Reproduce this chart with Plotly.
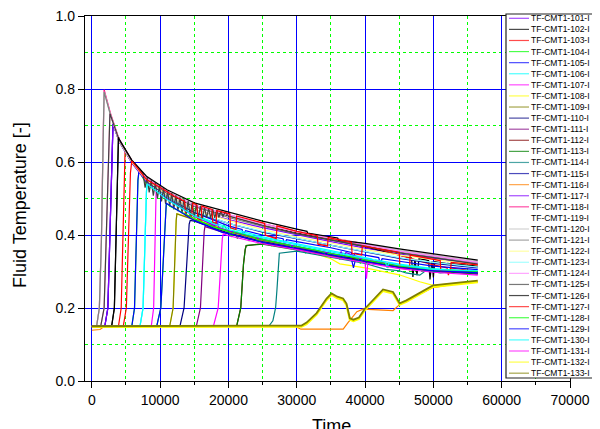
import plotly.graph_objects as go

# ---------------- data ----------------
series_names = [
    "TF-CMT1-101-I", "TF-CMT1-102-I", "TF-CMT1-103-I", "TF-CMT1-104-I", "TF-CMT1-105-I",
    "TF-CMT1-106-I", "TF-CMT1-107-I", "TF-CMT1-108-I", "TF-CMT1-109-I", "TF-CMT1-110-I",
    "TF-CMT1-111-I", "TF-CMT1-112-I", "TF-CMT1-113-I", "TF-CMT1-114-I", "TF-CMT1-115-I",
    "TF-CMT1-116-I", "TF-CMT1-117-I", "TF-CMT1-118-I", "TF-CMT1-119-I", "TF-CMT1-120-I",
    "TF-CMT1-121-I", "TF-CMT1-122-I", "TF-CMT1-123-I", "TF-CMT1-124-I", "TF-CMT1-125-I",
    "TF-CMT1-126-I", "TF-CMT1-127-I", "TF-CMT1-128-I", "TF-CMT1-129-I", "TF-CMT1-130-I",
    "TF-CMT1-131-I", "TF-CMT1-132-I", "TF-CMT1-133-I",
]
series_colors = [
    "#8000FF", "#000000", "#FF0000", "#00FF00", "#0000FF",
    "#00FFFF", "#FF00FF", "#FFFF00", "#808000", "#000080",
    "#800080", "#800000", "#008000", "#008080", "#0000A0",
    "#FF8000", "#8000FF", "#FF0080", "#FFFFFF", "#C0C0C0",
    "#808080", "#FFFF80", "#80FFFF", "#FF80FF", "#404040",
    "#000000", "#FF0000", "#00FF00", "#0000FF", "#00FFFF",
    "#FF00FF", "#FFFF00", "#808000",
]

# rising fronts (time, fluid temperature)
rise_gray_t = [0, 700, 1100, 1400, 1650, 1800]
rise_gray_y = [0.150, 0.150, 0.200, 0.380, 0.650, 0.792]
rise_pink_y = [0.150, 0.150, 0.200, 0.385, 0.660, 0.798]
rise_dgray_t = [0, 1300, 1800, 2150, 2450, 2650]
rise_dgray_y = [0.150, 0.150, 0.200, 0.420, 0.660, 0.733]
rise_violet_t = [0, 1900, 2350, 2700, 2950, 3100]
rise_violet_y = [0.150, 0.150, 0.200, 0.450, 0.660, 0.705]
rise_black_t = [0, 2900, 3300, 3600, 3800, 3900]
rise_black_y = [0.150, 0.150, 0.200, 0.420, 0.620, 0.668]
rise_red1_t = [0, 3900, 4300, 4550, 4750, 4870]
rise_red1_y = [0.150, 0.150, 0.200, 0.420, 0.600, 0.634]
rise_red2_t = [0, 4600, 5050, 5350, 5650, 5850]
rise_red2_y = [0.150, 0.150, 0.200, 0.420, 0.570, 0.603]
rise_blue1_t = [0, 5850, 6250, 6550, 6750, 6900]
rise_blue1_y = [0.150, 0.150, 0.200, 0.420, 0.550, 0.575]
rise_cyan_t = [0, 7050, 7500, 7800, 8000, 8100]
rise_cyan_y = [0.150, 0.150, 0.200, 0.420, 0.520, 0.540]
rise_mag1_t = [0, 8700, 9050, 9250, 9350, 9420]
rise_mag1_y = [0.150, 0.150, 0.200, 0.420, 0.510, 0.530]
rise_blue2_t = [0, 9500, 10100, 10500, 10750, 10900]
rise_blue2_y = [0.150, 0.150, 0.200, 0.360, 0.460, 0.487]
rise_olive_t = [0, 11400, 11900, 12200, 12350, 12450]
rise_olive_y = [0.150, 0.150, 0.200, 0.380, 0.440, 0.458]
rise_navy_t = [0, 12900, 13500, 13950, 14250, 14400]
rise_navy_y = [0.150, 0.150, 0.200, 0.360, 0.430, 0.440]
rise_purple_t = [0, 15300, 15900, 16250, 16450, 16560]
rise_purple_y = [0.150, 0.150, 0.200, 0.360, 0.410, 0.423]
rise_mag2_t = [0, 17800, 18500, 18900, 19100, 19240]
rise_mag2_y = [0.150, 0.150, 0.200, 0.340, 0.390, 0.403]
rise_green_t = [0, 21200, 21800, 22200, 22450, 22600]
rise_green_y = [0.150, 0.150, 0.200, 0.320, 0.360, 0.371]
rise_teal_t = [0, 25900, 26500, 26900, 27100, 27250, 27450]
rise_teal_y = [0.150, 0.150, 0.165, 0.200, 0.250, 0.310, 0.350]

# decay parts
grid_a_t = [2700, 4000, 5850, 8000, 11000, 15000, 20000, 25000, 30000, 35000, 40000, 45000, 50000, 56500]
grid_b_t = [4000, 5850, 8000, 11000, 15000, 20000, 25000, 30000, 35000, 40000, 45000, 50000, 56500]

dec118_y = [0.735, 0.662, 0.604, 0.558, 0.519, 0.481, 0.455, 0.431, 0.410, 0.392, 0.374, 0.358, 0.345, 0.327]
dec119_y = [0.730, 0.658, 0.601, 0.556, 0.517, 0.482, 0.455, 0.430, 0.409, 0.392, 0.374, 0.358, 0.344, 0.327]
dec120_y = [0.730, 0.658, 0.601, 0.556, 0.517, 0.482, 0.455, 0.430, 0.409, 0.392, 0.374, 0.358, 0.344, 0.327]
dec121_y = [0.731, 0.659, 0.602, 0.557, 0.519, 0.479, 0.448, 0.424, 0.403, 0.386, 0.368, 0.353, 0.340, 0.324]

dec124_y = [0.660, 0.603, 0.556, 0.518, 0.481, 0.456, 0.431, 0.409, 0.391, 0.372, 0.356, 0.342, 0.325]
dec122_y = [0.658, 0.600, 0.550, 0.510, 0.470, 0.440, 0.415, 0.395, 0.378, 0.360, 0.345, 0.333, 0.318]
dec101_y = [0.657, 0.600, 0.552, 0.510, 0.470, 0.442, 0.420, 0.400, 0.382, 0.364, 0.348, 0.336, 0.320]
dec115_y = [0.656, 0.598, 0.548, 0.505, 0.462, 0.432, 0.408, 0.390, 0.372, 0.352, 0.336, 0.322, 0.310]

dec117_t = [4000, 5850, 8000, 11000, 15000, 18000, 18300, 18600, 20000, 25000, 30000, 35000, 36200, 36500, 36800, 37200, 40000, 45000, 50000, 56500]
dec117_y = [0.656, 0.598, 0.546, 0.500, 0.452, 0.425, 0.438, 0.420, 0.412, 0.388, 0.368, 0.350, 0.343, 0.355, 0.338, 0.352, 0.332, 0.315, 0.304, 0.296]

dec125_t = [4000, 5850, 7000, 7500, 7800, 8100, 8400, 8700, 9000, 9300, 9600, 9900, 10200, 10500,
            10800, 11100, 11400, 11700, 12000, 12300, 12600, 12900, 13200, 13500, 13800, 14100,
            14400, 14700, 15000, 15300, 15600, 15900, 16200, 16500, 16800, 17100, 17400, 17700,
            18000, 18300, 18600, 18900, 19200, 19500, 20000, 25000, 30000, 35000, 40000, 45000,
            50000, 56500]
dec125_y = [0.660, 0.604, 0.581, 0.568, 0.530, 0.558, 0.517, 0.550, 0.508, 0.543, 0.500, 0.535,
            0.492, 0.528, 0.485, 0.521, 0.478, 0.515, 0.470, 0.509, 0.465, 0.503, 0.460, 0.498,
            0.455, 0.493, 0.452, 0.488, 0.448, 0.484, 0.446, 0.480, 0.445, 0.476, 0.447, 0.473,
            0.446, 0.471, 0.447, 0.468, 0.448, 0.465, 0.450, 0.463, 0.452, 0.426, 0.404, 0.386,
            0.367, 0.351, 0.338, 0.320]

dec126_t = [4000, 5850, 8000, 11000, 15000, 20000, 25000, 30000, 31500, 31600, 35000, 36000, 36100, 40000, 45000, 50000, 56500]
dec126_y = [0.663, 0.605, 0.561, 0.524, 0.488, 0.463, 0.438, 0.416, 0.410, 0.405, 0.395, 0.392, 0.386, 0.377, 0.362, 0.348, 0.331]

dec102_t = [4000, 5850, 8000, 11000, 15000, 20000, 25000, 30000, 35000, 40000, 45000, 46800, 47000, 47300,
            47600, 47900, 49300, 49500, 49800, 50000, 50200, 52000, 56500]
dec102_y = [0.660, 0.602, 0.555, 0.515, 0.478, 0.452, 0.428, 0.406, 0.388, 0.368, 0.345, 0.338, 0.285, 0.333,
            0.290, 0.335, 0.330, 0.278, 0.328, 0.284, 0.327, 0.322, 0.315]

dec103_t = [5850, 8000, 11000, 15000, 20000, 25000, 30000, 35000, 40000, 45000, 50000, 52000, 52200, 52500, 56500]
dec103_y = [0.603, 0.556, 0.518, 0.481, 0.455, 0.430, 0.408, 0.390, 0.372, 0.345, 0.318, 0.310, 0.290, 0.310, 0.300]

dec127_t = [8000, 10000, 11000, 12000, 13600, 13700, 14600, 14800, 15400, 15500, 16000, 16100, 17600, 17700,
            18200, 18300, 20200, 20300, 21100, 21200, 25300, 25400, 27000, 27100, 30000, 33000, 33100,
            34500, 34600, 38000, 38100, 39500, 39600, 45000, 45100, 46500, 46600, 50000, 51000, 51100,
            52500, 52600, 56500]
dec127_y = [0.552, 0.530, 0.518, 0.507, 0.492, 0.455, 0.450, 0.488, 0.482, 0.445, 0.440, 0.479, 0.470, 0.435,
            0.432, 0.467, 0.458, 0.420, 0.415, 0.452, 0.432, 0.400, 0.390, 0.425, 0.410, 0.398, 0.375,
            0.370, 0.393, 0.380, 0.350, 0.345, 0.370, 0.353, 0.310, 0.305, 0.345, 0.335, 0.330, 0.300,
            0.298, 0.325, 0.318]

dec104_t = [8000, 11000, 15000, 18000, 19000, 19300, 20000, 21000, 21300, 21600, 22500, 23000, 23300,
            25000, 26000, 26300, 26600, 28000, 30000, 31000, 31300, 31600, 33000, 35000, 36000, 36300,
            36600, 40000, 43000, 43300, 43600, 45000, 50000, 56500]
dec104_y = [0.540, 0.500, 0.455, 0.430, 0.415, 0.428, 0.410, 0.405, 0.390, 0.402, 0.398, 0.385, 0.397,
            0.388, 0.383, 0.370, 0.382, 0.375, 0.368, 0.364, 0.350, 0.362, 0.357, 0.350, 0.345, 0.333,
            0.345, 0.333, 0.322, 0.310, 0.320, 0.316, 0.305, 0.300]

dec105_t = [8000, 11000, 15000, 20000, 22000, 22200, 22500, 25000, 28000, 28200, 28500, 30000, 35000,
            38000, 38200, 38500, 40000, 42000, 42200, 42500, 45000, 50000, 56500]
dec105_y = [0.545, 0.505, 0.462, 0.425, 0.415, 0.400, 0.412, 0.400, 0.390, 0.375, 0.387, 0.382, 0.365,
            0.352, 0.335, 0.350, 0.345, 0.338, 0.322, 0.335, 0.328, 0.315, 0.305]

dec106_t = [11000, 15000, 20000, 25000, 30000, 35000, 40000, 41000, 41200, 41500, 45000, 50000, 56500]
dec106_y = [0.500, 0.455, 0.420, 0.395, 0.375, 0.357, 0.338, 0.334, 0.318, 0.332, 0.320, 0.308, 0.300]
dec123_t = [11000, 15000, 20000, 25000, 30000, 35000, 40000, 45000, 50000, 56500]
dec123_y = [0.505, 0.465, 0.432, 0.410, 0.390, 0.372, 0.355, 0.338, 0.325, 0.312]
dec130_t = [11000, 15000, 20000, 25000, 30000, 35000, 40000, 43000, 43200, 43500, 45000, 50000, 56500]
dec130_y = [0.497, 0.452, 0.415, 0.392, 0.372, 0.354, 0.336, 0.326, 0.310, 0.324, 0.318, 0.306, 0.302]

dec107_t = [11000, 15000, 20000, 25000, 30000, 35000, 40000, 45000, 50000, 56500]
dec107_y = [0.500, 0.450, 0.410, 0.388, 0.368, 0.350, 0.332, 0.316, 0.305, 0.298]

dec108_t = [15000, 20000, 25000, 30000, 35000, 36300, 40000, 45000, 48000, 49940, 53000, 56500]
dec108_y = [0.445, 0.410, 0.385, 0.365, 0.335, 0.321, 0.310, 0.291, 0.272, 0.262, 0.267, 0.272]

dec109_t = [15000, 20000, 25000, 30000, 35000, 40000, 45000, 50000, 56500]
dec109_y = [0.442, 0.410, 0.386, 0.366, 0.348, 0.330, 0.314, 0.303, 0.295]
dec110_t = [15000, 20000, 25000, 30000, 35000, 40000, 45000, 50000, 56500]
dec110_y = [0.438, 0.405, 0.382, 0.364, 0.346, 0.328, 0.312, 0.302, 0.294]
dec111_t = [20000, 25000, 30000, 35000, 40000, 45000, 50000, 56500]
dec111_y = [0.403, 0.380, 0.362, 0.344, 0.327, 0.312, 0.301, 0.293]
dec112_t = [25000, 30000, 35000, 40000, 45000, 50000, 56500]
dec112_y = [0.376, 0.362, 0.345, 0.328, 0.313, 0.303, 0.296]
dec113_t = [25000, 30000, 35000, 40000, 45000, 50000, 56500]
dec113_y = [0.375, 0.360, 0.343, 0.326, 0.311, 0.301, 0.294]
dec114_t = [30000, 35000, 40000, 43000, 45000, 46000, 48000, 49000, 51000, 53000, 56500]
dec114_y = [0.356, 0.340, 0.322, 0.306, 0.302, 0.296, 0.290, 0.304, 0.296, 0.300, 0.300]

dec128_t = [11500, 15000, 18000, 20000, 20500, 20800, 23000, 24000, 24300, 24600, 27000, 29000, 29300,
            29600, 33000, 34000, 34300, 34600, 38000, 39000, 39300, 39600, 42000, 45000, 50000, 56500]
dec128_y = [0.478, 0.445, 0.420, 0.410, 0.395, 0.410, 0.398, 0.392, 0.378, 0.390, 0.380, 0.372, 0.360,
            0.370, 0.358, 0.352, 0.340, 0.350, 0.340, 0.335, 0.322, 0.333, 0.325, 0.315, 0.306, 0.300]
dec129_t = [11500, 15000, 19000, 20000, 25000, 30000, 35000, 38000, 38300, 38600, 40000, 45000, 50000, 56500]
dec129_y = [0.480, 0.440, 0.408, 0.404, 0.380, 0.363, 0.345, 0.335, 0.310, 0.333, 0.327, 0.311, 0.302, 0.296]
dec131_t = [20000, 25000, 30000, 35000, 40000, 40200, 40400, 45000, 50000, 56500]
dec131_y = [0.398, 0.376, 0.360, 0.341, 0.324, 0.280, 0.323, 0.308, 0.298, 0.290]

# late, slow-rising sensors
t116 = [0, 1200, 1800, 29900, 30600, 36800, 37500, 38000, 38800, 39700, 44100, 44800, 45070, 46050,
        47020, 49940, 53000, 56500]
y116 = [0.139, 0.141, 0.149, 0.149, 0.142, 0.142, 0.160, 0.172, 0.190, 0.197, 0.193, 0.205, 0.210, 0.219,
        0.228, 0.256, 0.265, 0.271]
bump_t = [0, 29970, 30700, 31430, 32900, 34360, 35090, 35940, 36780, 37280, 37770, 38300, 39100, 39960,
          41170, 42630, 44090, 45070, 46050, 47020, 48500, 49940, 53000, 56500]
y132 = [0.148, 0.148, 0.149, 0.156, 0.182, 0.222, 0.236, 0.227, 0.222, 0.208, 0.168, 0.164, 0.170, 0.194,
        0.218, 0.247, 0.240, 0.209, 0.217, 0.227, 0.243, 0.258, 0.264, 0.271]
y133 = [0.150, 0.150, 0.152, 0.160, 0.186, 0.226, 0.240, 0.231, 0.226, 0.212, 0.172, 0.168, 0.174, 0.198,
        0.222, 0.251, 0.244, 0.213, 0.221, 0.231, 0.247, 0.262, 0.268, 0.275]

x_ticks = [0, 10000, 20000, 30000, 40000, 50000, 60000, 70000]
x_minor = [5000, 15000, 25000, 35000, 45000, 55000, 65000]
y_ticks = [0.0, 0.2, 0.4, 0.6, 0.8, 1.0]
y_minor = [0.1, 0.3, 0.5, 0.7, 0.9]

# assemble each sensor's full curve from its pieces (order = drawing order)
curves = [
    (rise_violet_t + grid_b_t, rise_violet_y + dec101_y),   # 101
    (rise_black_t + dec102_t, rise_black_y + dec102_y),     # 102
    (rise_red1_t + dec103_t, rise_red1_y + dec103_y),       # 103
    (rise_blue1_t + dec104_t, rise_blue1_y + dec104_y),     # 104
    (rise_blue1_t + dec105_t, rise_blue1_y + dec105_y),     # 105
    (rise_cyan_t + dec106_t, rise_cyan_y + dec106_y),       # 106
    (rise_mag1_t + dec107_t, rise_mag1_y + dec107_y),       # 107
    (rise_olive_t + dec108_t, rise_olive_y + dec108_y),     # 108
    (rise_olive_t + dec109_t, rise_olive_y + dec109_y),     # 109
    (rise_navy_t + dec110_t, rise_navy_y + dec110_y),       # 110
    (rise_purple_t + dec111_t, rise_purple_y + dec111_y),   # 111
    (rise_green_t + dec112_t, rise_green_y + dec112_y),     # 112
    (rise_green_t + dec113_t, rise_green_y + dec113_y),     # 113
    (rise_teal_t + dec114_t, rise_teal_y + dec114_y),       # 114
    (rise_violet_t + grid_b_t, rise_violet_y + dec115_y),   # 115
    (t116, y116),                                           # 116
    (rise_violet_t + dec117_t, rise_violet_y + dec117_y),   # 117
    (rise_gray_t + grid_a_t, rise_pink_y + dec118_y),       # 118
    (rise_gray_t + grid_a_t, rise_gray_y + dec119_y),       # 119
    (rise_gray_t + grid_a_t, rise_gray_y + dec120_y),       # 120
    (rise_gray_t + grid_a_t, rise_gray_y + dec121_y),       # 121
    (rise_dgray_t + grid_b_t, rise_dgray_y + dec122_y),     # 122
    (rise_cyan_t + dec123_t, rise_cyan_y + dec123_y),       # 123
    (rise_dgray_t + grid_b_t, rise_dgray_y + dec124_y),     # 124
    (rise_dgray_t + dec125_t, rise_dgray_y + dec125_y),     # 125
    (rise_black_t + dec126_t, rise_black_y + dec126_y),     # 126
    (rise_red2_t + dec127_t, rise_red2_y + dec127_y),       # 127
    (rise_blue2_t + dec128_t, rise_blue2_y + dec128_y),     # 128
    (rise_blue2_t + dec129_t, rise_blue2_y + dec129_y),     # 129
    (rise_cyan_t + dec130_t, rise_cyan_y + dec130_y),       # 130
    (rise_mag2_t + dec131_t, rise_mag2_y + dec131_y),       # 131
    (bump_t, y132),                                         # 132
    (bump_t, y133),                                         # 133
]

# ---------------- figure ----------------
# The page body has an 8 px default margin, so the figure is sized/placed
# to land the plot area at the reference's pixel positions.
BODY = 8
W, H = 600 - BODY, 429 - BODY
PLOT_L, PLOT_R, PLOT_T, PLOT_B = 85, 570, 16, 381   # plot area in window pixels
ML = PLOT_L - BODY
MT = PLOT_T - BODY
MR = W - (PLOT_R - BODY)
MB = H - (PLOT_B - BODY)
PW, PH = PLOT_R - PLOT_L, PLOT_B - PLOT_T
FONT = "Liberation Sans, Arial, sans-serif"


def pxx(px):
    return (px - PLOT_L) / PW


def pxy(py):
    return (PLOT_B - py) / PH


fig = go.Figure()
for i, (t, y) in enumerate(curves):
    width = 1.2
    if series_names[i].endswith("132-I"):
        width = 2.2
    if series_names[i].endswith("133-I"):
        width = 1.8
    fig.add_trace(go.Scatter(
        x=t, y=y, mode="lines", name=series_names[i],
        line=dict(color=series_colors[i], width=width),
        showlegend=False, hoverinfo="skip",
    ))

axis_common = dict(
    showline=True, linecolor="black", linewidth=1.3, mirror=True,
    ticks="outside", ticklen=6, tickwidth=1, tickcolor="black",
    showgrid=True, gridcolor="#0000FF", gridwidth=1,
    zeroline=False, ticklabeloverflow="allow",
    tickfont=dict(family=FONT, size=14, color="black"),
)

fig.update_xaxes(
    range=[-1000, 70000], tickmode="array", tickvals=x_ticks, ticktext=[str(v) for v in x_ticks],
    minor=dict(tickmode="array", tickvals=x_minor, ticks="outside", ticklen=3, tickcolor="black",
               showgrid=True, gridcolor="#00FF00", griddash="dot", gridwidth=1),
    **axis_common,
)
fig.update_yaxes(
    range=[0, 1], tickmode="array", tickvals=y_ticks, ticktext=["%.1f" % v for v in y_ticks],
    minor=dict(tickmode="array", tickvals=y_minor, ticks="", showgrid=True, gridcolor="#00FF00",
               griddash="dot", gridwidth=1),
    **axis_common,
)

shapes = []
annotations = []

# axis titles
annotations.append(dict(xref="paper", yref="paper", x=pxx(20), y=pxy(205), text="Fluid Temperature [-]",
                        textangle=-90, showarrow=False, xanchor="center", yanchor="middle",
                        font=dict(family=FONT, size=18, color="black")))
annotations.append(dict(xref="paper", yref="paper", x=pxx(331), y=pxy(414), text="Time",
                        showarrow=False, xanchor="center", yanchor="top",
                        font=dict(family=FONT, size=18, color="black")))

# legend box (drawn by hand so the 33 entries fit like the reference)
shapes.append(dict(type="rect", xref="paper", yref="paper", x0=pxx(506), x1=pxx(597), y0=pxy(378), y1=pxy(14),
                   line=dict(color="#222222", width=1.2), fillcolor="white", layer="above"))
for i, nm in enumerate(series_names):
    yc = 18.3 + 11.09 * i
    shapes.append(dict(type="line", xref="paper", yref="paper", x0=pxx(509), x1=pxx(529), y0=pxy(yc), y1=pxy(yc),
                       line=dict(color=series_colors[i], width=1.2), opacity=0.7, layer="above"))
    annotations.append(dict(xref="paper", yref="paper", x=pxx(530), y=pxy(yc), text=nm, showarrow=False,
                            xanchor="left", yanchor="middle", borderpad=0,
                            font=dict(family=FONT, size=8.5, color="black")))

fig.update_layout(
    width=W, height=H,
    margin=dict(l=ML, r=MR, t=MT, b=MB, pad=0, autoexpand=False),
    paper_bgcolor="white", plot_bgcolor="white",
    showlegend=False,
    shapes=shapes, annotations=annotations,
    font=dict(family=FONT, color="black"),
)

fig.write_html("out.html")
